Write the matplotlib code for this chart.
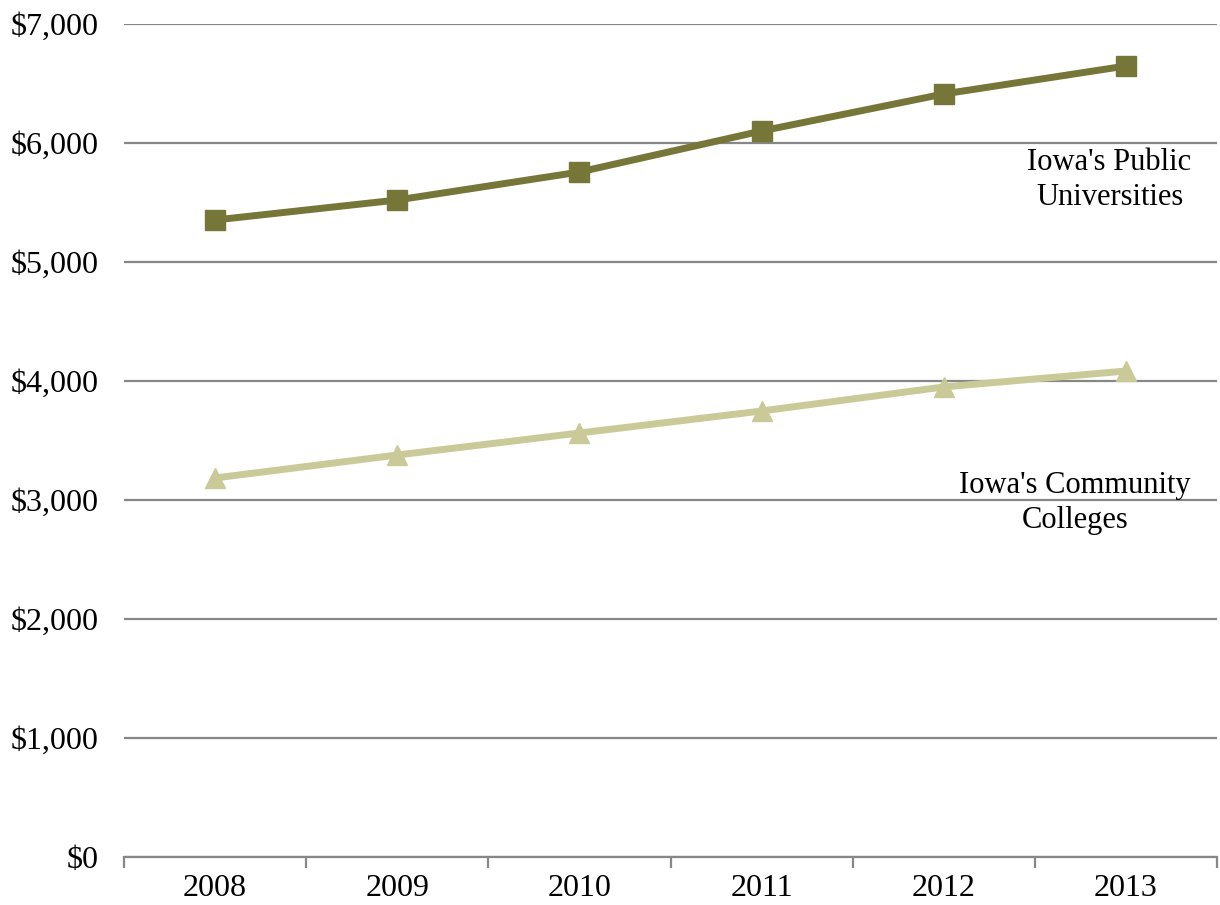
import matplotlib.pyplot as plt
from matplotlib.ticker import FuncFormatter, FixedLocator

plt.rcParams['font.family'] = ['Liberation Serif', 'DejaVu Serif']

years = ['2008', '2009', '2010', '2011', '2012', '2013']
universities = [5353, 5521, 5756, 6101, 6412, 6647]
community = [3185, 3378, 3563, 3748, 3950, 4084]

x = list(range(len(years)))

fig = plt.figure(figsize=(12.2, 9.05), dpi=100)
ax = fig.add_axes([124 / 1220, 1 - 857 / 905, (1217 - 124) / 1220, (857 - 24) / 905])

# gridlines
ax.set_ylim(0, 7000)
ax.set_yticks(range(0, 7001, 1000))
ax.yaxis.grid(True, color='#878787', linewidth=1.6)
ax.set_axisbelow(True)
ax.yaxis.set_major_formatter(FuncFormatter(lambda v, p: f"${v:,.0f}"))
ax.tick_params(axis='y', length=0, pad=18, labelsize=23)

ax.plot(x, universities, color='#767638', linewidth=5, marker='s', markersize=14, zorder=3)
ax.plot(x, community, color='#CACA98', linewidth=5, marker='^', markersize=15, zorder=3)

ax.text(4.91, 5690, "Iowa's Public\nUniversities", ha='center', va='center', fontsize=22, linespacing=1.3)
ax.text(4.72, 2975, "Iowa's Community\nColleges", ha='center', va='center', fontsize=22, linespacing=1.3)

ax.set_xlim(-0.5, 5.5)
ax.set_xticks(x)
ax.set_xticklabels(years)
ax.xaxis.set_minor_locator(FixedLocator([i - 0.5 for i in range(len(years) + 1)]))
ax.tick_params(axis='x', which='major', length=0, pad=12, labelsize=23)
ax.tick_params(axis='x', which='minor', length=8, width=1.6, color='#878787', direction='out')

for s in ['left', 'right', 'top']:
    ax.spines[s].set_visible(False)
ax.spines['bottom'].set_color('#878787')
ax.spines['bottom'].set_linewidth(1.6)

fig.savefig('out.png', dpi=100)
